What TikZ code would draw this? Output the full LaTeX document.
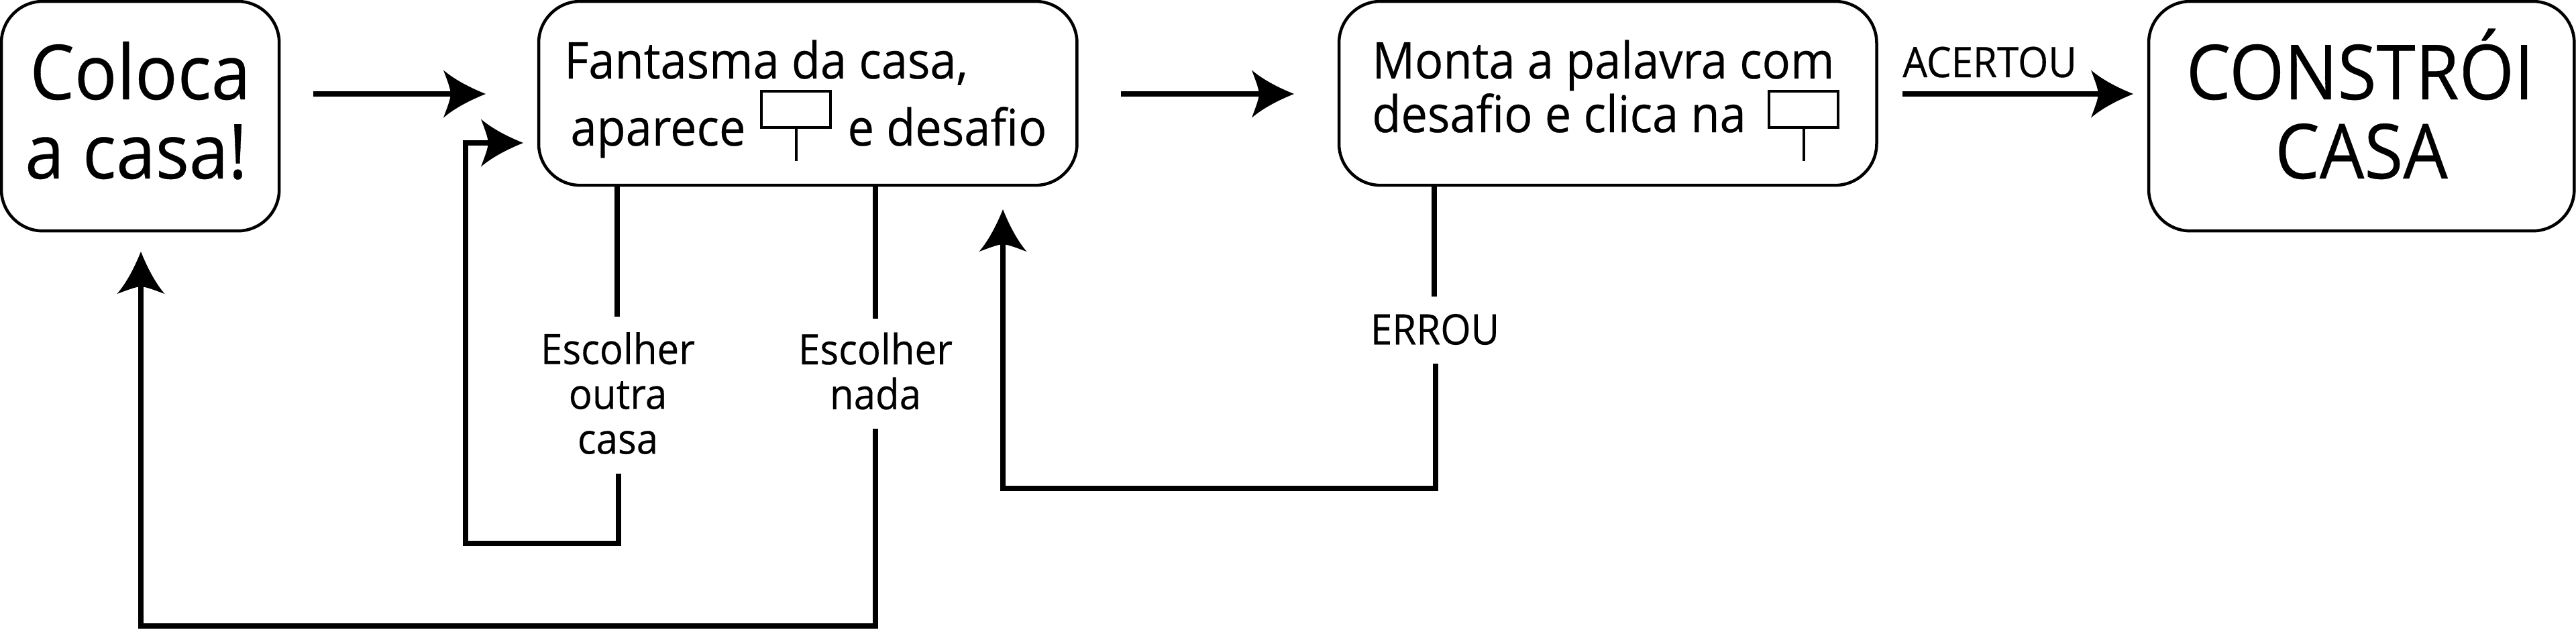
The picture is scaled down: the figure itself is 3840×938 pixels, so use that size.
\documentclass[tikz,border=0pt]{standalone}
\usepackage{fontspec}
\setmainfont[FakeStretch=0.93,FakeBold=0.3]{Open Sans}
\pgfdeclarearrow{
  name=Barb,
  setup code={\pgfarrowssettipend{0pt}\pgfarrowssetlineend{-0.4cm}\pgfarrowssetbackend{-0.63cm}\pgfarrowssetvisualbackend{-0.52cm}},
  drawing code={
    \pgfpathmoveto{\pgfpoint{0cm}{0cm}}
    \pgfpathcurveto{\pgfpoint{-0.2cm}{0.08cm}}{\pgfpoint{-0.45cm}{0.2cm}}{\pgfpoint{-0.63cm}{0.355cm}}
    \pgfpathcurveto{\pgfpoint{-0.58cm}{0.22cm}}{\pgfpoint{-0.53cm}{0.1cm}}{\pgfpoint{-0.52cm}{0cm}}
    \pgfpathcurveto{\pgfpoint{-0.53cm}{-0.1cm}}{\pgfpoint{-0.58cm}{-0.22cm}}{\pgfpoint{-0.63cm}{-0.355cm}}
    \pgfpathcurveto{\pgfpoint{-0.45cm}{-0.2cm}}{\pgfpoint{-0.2cm}{-0.08cm}}{\pgfpoint{0cm}{0cm}}
    \pgfpathclose\pgfusepathqfill
  }
}
\tikzset{
  x=0.01cm,y=-0.01cm,
  boxA/.style={draw,line width=0.045cm,rounded corners=0.62cm,anchor=north west,inner sep=0pt,outer sep=0pt},
  big/.style={inner sep=0pt,anchor=base,font=\fontsize{32.2pt}{32pt}\selectfont},
  mid/.style={inner sep=0pt,anchor=base,font=\fontsize{21.5pt}{21.5pt}\selectfont},
  lab/.style={inner sep=0pt,outer sep=0pt,align=center,font=\fontsize{17.8pt}{19pt}\selectfont},
  vln/.style={line width=0.075cm},
  arr/.style={line width=0.08cm,-Barb},
  sign/.style={draw,line width=0.045cm,inner sep=0pt,outer sep=0pt,anchor=north west,minimum width=1.03cm,minimum height=0.54cm}
}
\begin{document}
\begin{tikzpicture}
\useasboundingbox (0,0) rectangle (3840,938);
\node[boxA,minimum width=4.14cm,minimum height=3.42cm] (b1) at (2,2) {};
\node[boxA,minimum width=8.02cm,minimum height=2.74cm] (b2) at (803,2) {};
\node[boxA,minimum width=8.01cm,minimum height=2.74cm] (b3) at (1996,2) {};
\node[boxA,minimum width=6.34cm,minimum height=3.42cm] (b4) at (3203,2) {};
\node[big] (t1a) at (209,148) {Coloca};
\node[big] (t1b) at (203,266) {a casa!};
\node[mid] (t2a) at (1142,117) {Fantasma da casa,};
\node[mid] (t2b) at (981,217) {aparece};
\node[mid] (t2c) at (1412,217) {e desafio};
\node[mid] (t3a) at (2390,117) {Monta a palavra com};
\node[mid] (t3b) at (2324,197) {desafio e clica na};
\node[big] (t4a) at (3518,148) {CONSTRÓI};
\node[big] (t4b) at (3520,266) {CASA};
\node[sign] (s1) at (1135,136) {};
\node[sign] (s2) at (2637,136) {};
\coordinate (s1e) at (1187,240);
\coordinate (s2e) at (2688,240);
\draw[line width=0.04cm] (s1.south) -- (s1.south |- s1e);
\draw[line width=0.04cm] (s2.south) -- (s2.south |- s2e);
\node[lab] (l1) at (921,586) {Escolher\\outra\\casa};
\node[lab] (l2) at (1305,553) {Escolher\\nada};
\node[lab] (l3) at (2139,491) {ERROU};
\node[inner sep=0pt,anchor=base,font=\fontsize{17.8pt}{19pt}\selectfont] (l4) at (2966,115) {ACERTOU};
\coordinate (l1t) at (920,472); \coordinate (l1b) at (922,706);
\coordinate (l2t) at (1305,475); \coordinate (l2b) at (1305,639);
\coordinate (l3t) at (2138,442); \coordinate (l3b) at (2140,542);
\coordinate (a1s) at (467,140); \coordinate (a1e) at (724,140);
\coordinate (a2s) at (1671,140); \coordinate (a2e) at (1929,140);
\coordinate (a3s) at (2836,140); \coordinate (a3e) at (3180,140);
\coordinate (c1) at (694,810); \coordinate (c1e) at (780,213);
\coordinate (c2) at (210,933); \coordinate (c2e) at (210,375);
\coordinate (c3) at (1495,728); \coordinate (c3e) at (1495,312);
\draw[arr] (a1s) -- (a1e);
\draw[arr] (a2s) -- (a2e);
\draw[arr] (a3s) -- (a3e);
\draw[vln] (b2.south -| l1t) -- (l1t);
\draw[vln] (b2.south -| l2t) -- (l2t);
\draw[vln] (b3.south -| l3t) -- (l3t);
\draw[arr] (l1b) |- (c1) |- (c1e);
\draw[arr] (l2b) |- (c2) -- (c2e);
\draw[arr] (l3b) |- (c3) -- (c3e);
\end{tikzpicture}
\end{document}
